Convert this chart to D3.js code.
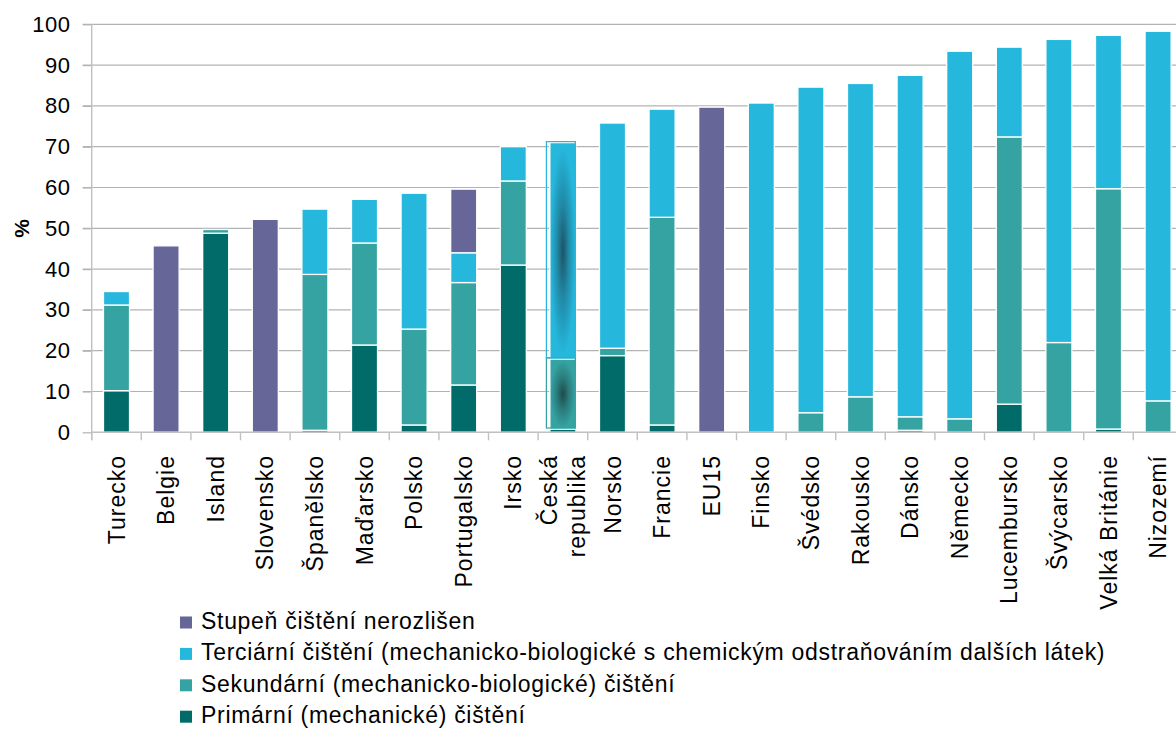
<!DOCTYPE html>
<html>
<head>
<meta charset="utf-8">
<script src="https://cdn.jsdelivr.net/npm/d3@7"></script>
<style>
  body { margin: 0; background: #fff; }
  svg { display: block; font-family: "Liberation Sans", Arial, sans-serif; }
</style>
</head>
<body>
<svg id="chart" width="1176" height="729"></svg>
<script>
// kategorie (země)
const categories = ['Turecko', 'Belgie', 'Island', 'Slovensko', 'Španělsko', 'Maďarsko', 'Polsko',
  'Portugalsko', 'Irsko', 'Česká republika', 'Norsko', 'Francie', 'EU15', 'Finsko', 'Švédsko',
  'Rakousko', 'Dánsko', 'Německo', 'Lucembursko', 'Švýcarsko', 'Velká Británie', 'Nizozemí'];

// hodnoty v %
const primarni    = [10.2, 0, 48.8, 0, 0.5, 21.4, 1.8, 11.6, 41.0, 0.8, 18.8, 1.8, 0, 0, 0, 0, 0.5, 0, 6.9, 0, 0.8, 0];
const sekundarni  = [21.0, 0, 0.9, 0, 38.2, 25.0, 23.5, 25.1, 20.6, 17.2, 1.8, 50.9, 0, 0, 4.8, 8.7, 3.3, 3.3, 65.5, 22.0, 58.9, 7.7];
const terciarni   = [3.3, 0, 0, 0, 16.0, 10.7, 33.3, 7.3, 8.4, 53.0, 55.2, 26.5, 0, 80.7, 79.8, 76.8, 83.7, 90.1, 22.0, 74.3, 37.6, 90.6];
const nerozliseno = [0, 45.7, 0, 52.2, 0, 0, 0, 15.6, 0, 0, 0, 0, 79.7, 0, 0, 0, 0, 0, 0, 0, 0, 0];

const yTicks = [0, 10, 20, 30, 40, 50, 60, 70, 80, 90, 100];

const series = [
  { key: 'primarni', label: 'Primární (mechanické) čištění', color: '#006b69', values: primarni },
  { key: 'sekundarni', label: 'Sekundární (mechanicko-biologické) čištění', color: '#34a3a2', values: sekundarni },
  { key: 'terciarni', label: 'Terciární čištění (mechanicko-biologické s chemickým odstraňováním dalších látek)', color: '#25b7dc', values: terciarni },
  { key: 'nerozliseno', label: 'Stupeň čištění nerozlišen', color: '#666699', values: nerozliseno }
];

const svg = d3.select('#chart');

const plotLeft = 91.7, plotBottom = 432.3, plotTop = 24.3;
const step = 49.6;

const x = d3.scaleBand()
  .domain(categories)
  .range([plotLeft, plotLeft + step * categories.length])
  .paddingInner(0.475)
  .paddingOuter(0.2375);

const y = d3.scaleLinear().domain([0, 100]).range([plotBottom, plotTop]);

// tabulka pro d3.stack
const table = categories.map((c, i) => {
  const row = { kategorie: c };
  series.forEach(s => { row[s.key] = s.values[i]; });
  return row;
});
const stacked = d3.stack().keys(series.map(s => s.key))(table);

// gradienty pro zvýrazněný sloupec ČR
const defs = svg.append('defs');
[['grad-terciarni', '#1d5366', '#25b7dc'], ['grad-sekundarni', '#1e4a49', '#34a3a2']].forEach(([id, c0, c1]) => {
  const g = defs.append('radialGradient').attr('id', id).attr('cx', '50%').attr('cy', '50%').attr('r', '50%');
  g.append('stop').attr('offset', '0%').attr('stop-color', c0);
  g.append('stop').attr('offset', '45%').attr('stop-color', d3.interpolateRgb(c0, c1)(0.55));
  g.append('stop').attr('offset', '95%').attr('stop-color', c1);
});

// mřížka
svg.append('g')
  .selectAll('line')
  .data(yTicks.filter(d => d > 0))
  .join('line')
  .attr('x1', plotLeft - 9)
  .attr('x2', 1176)
  .attr('y1', d => y(d))
  .attr('y2', d => y(d))
  .attr('stroke', '#b3b3b3')
  .attr('stroke-width', 1.2);

// osa Y
const yAxis = svg.append('g')
  .attr('transform', `translate(${plotLeft},0)`)
  .call(d3.axisLeft(y).tickValues(yTicks).tickSize(9).tickPadding(12));
yAxis.select('.domain').remove();
yAxis.selectAll('.tick line').attr('stroke', '#b3b3b3').attr('stroke-width', 1.2);
yAxis.selectAll('.tick text')
  .style('font-size', '22px')
  .style('letter-spacing', '0.6px')
  .attr('fill', '#000');

svg.append('line')
  .attr('x1', plotLeft).attr('x2', plotLeft)
  .attr('y1', plotTop).attr('y2', plotBottom + 8)
  .attr('stroke', '#c0c0c0').attr('stroke-width', 1.4);

svg.append('text')
  .attr('transform', `translate(22,${y(50)}) rotate(-90)`)
  .attr('text-anchor', 'middle')
  .attr('dy', '0.35em')
  .style('font-size', '21px')
  .style('font-weight', 'bold')
  .text('%');

// sloupce
const layers = svg.append('g')
  .selectAll('g')
  .data(stacked)
  .join('g')
  .attr('fill', (d, i) => series[i].color);

layers.selectAll('rect')
  .data(d => d.map(v => Object.assign(v, { key: d.key })))
  .join('rect')
  .filter(d => d[1] - d[0] > 0)
  .attr('x', d => x(d.data.kategorie))
  .attr('y', d => y(d[1]))
  .attr('width', x.bandwidth())
  .attr('height', d => y(d[0]) - y(d[1]))
  .attr('fill', d => {
    if (d.data.kategorie === 'Česká republika' && (d.key === 'terciarni' || d.key === 'sekundarni')) return `url(#grad-${d.key})`;
    return null;
  })
  .attr('stroke', '#fff')
  .attr('stroke-width', 1.3);

// rámeček zvýraznění ČR
const cr = 'Česká republika';
stacked.forEach((layer, i) => {
  const d = layer[categories.indexOf(cr)];
  if (d[1] - d[0] < 5) return;
  svg.append('rect')
    .attr('x', x(cr) - 3.5)
    .attr('y', y(d[1]) - 1)
    .attr('width', x.bandwidth() + 3)
    .attr('height', y(d[0]) - y(d[1]))
    .attr('fill', 'none')
    .attr('stroke', series[i].color)
    .attr('stroke-width', 1.2);
});

// osa X
svg.append('line')
  .attr('x1', plotLeft).attr('x2', 1176)
  .attr('y1', plotBottom).attr('y2', plotBottom)
  .attr('stroke', '#c0c0c0').attr('stroke-width', 1.4);

svg.append('g')
  .selectAll('line')
  .data(d3.range(categories.length + 1))
  .join('line')
  .attr('x1', i => plotLeft + i * x.step())
  .attr('x2', i => plotLeft + i * x.step())
  .attr('y1', plotBottom)
  .attr('y2', plotBottom + 8)
  .attr('stroke', '#c0c0c0')
  .attr('stroke-width', 1.4);

const labels = svg.append('g')
  .selectAll('text')
  .data(categories)
  .join('text')
  .attr('transform', d => `translate(${x(d) + x.bandwidth() / 2},455) rotate(-90)`)
  .attr('text-anchor', 'end')
  .style('font-size', '23px')
  .style('letter-spacing', '1px')
  .attr('fill', '#000');

labels.each(function(d) {
  const parts = d === 'Česká republika' ? ['Česká', 'republika'] : [d];
  const t = d3.select(this);
  parts.forEach((p, k) => {
    t.append('tspan')
      .attr('x', 0)
      .attr('dy', k === 0 ? (0.35 - (parts.length - 1) * 0.6) + 'em' : '1.2em')
      .text(p);
  });
});

// legenda (pořadí shora)
const legend = svg.append('g')
  .selectAll('g')
  .data(series.slice().reverse())
  .join('g')
  .attr('transform', (d, i) => `translate(180,${622.5 + i * 31.4})`);

legend.append('rect')
  .attr('x', 0).attr('y', -6)
  .attr('width', 12).attr('height', 12)
  .attr('fill', d => d.color);

legend.append('text')
  .attr('x', 21)
  .attr('dy', '0.27em')
  .style('font-size', '23px')
  .style('letter-spacing', '0.7px')
  .attr('fill', '#000')
  .text(d => d.label);
</script>
</body>
</html>
